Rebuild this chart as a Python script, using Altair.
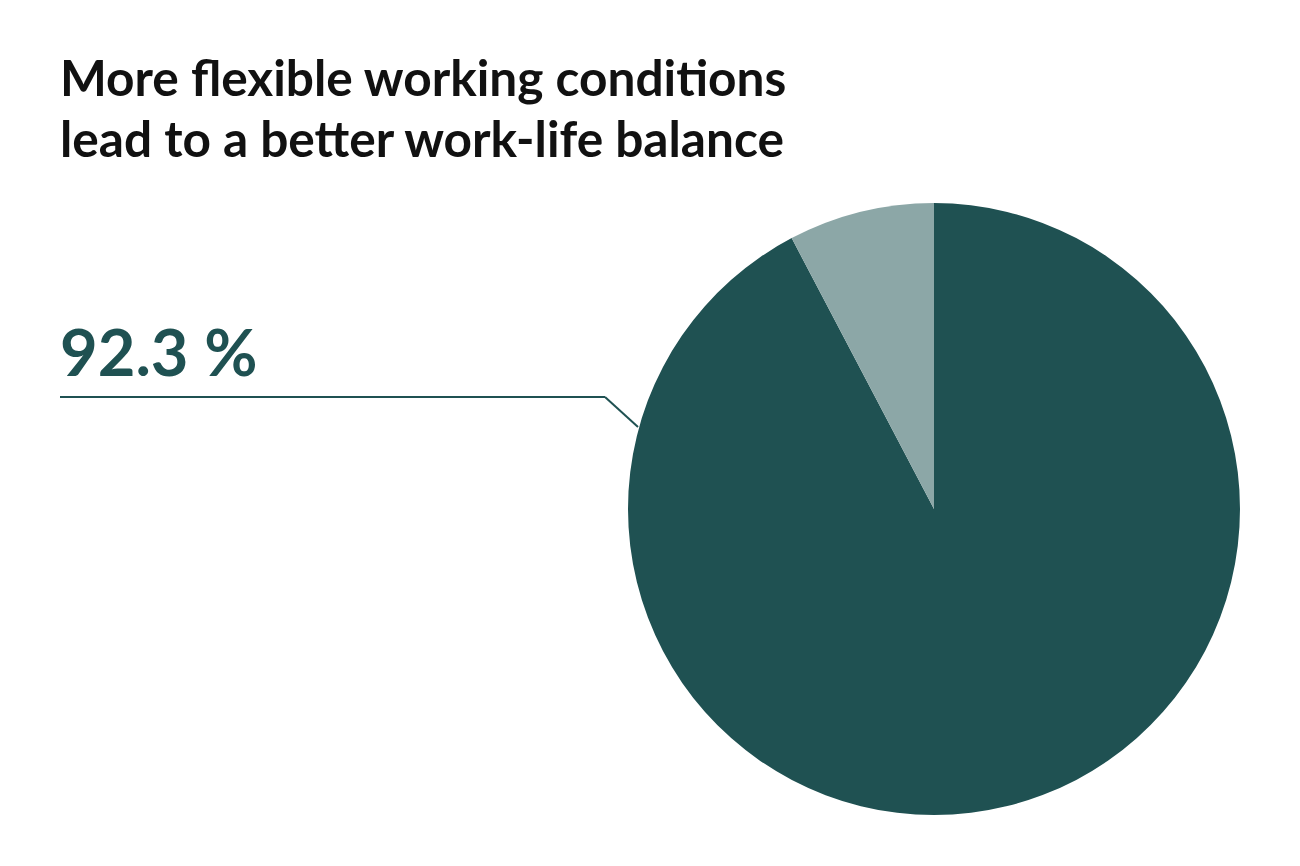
import altair as alt
import pandas as pd

categories = ["Agree", "Disagree"]
values = [92.3, 7.7]
colors = ["#1f5152", "#8ca7a7"]
title_lines = ["More flexible working conditions", "lead to a better work-life balance"]
label_text = "92.3 %"

FONT = "Lato"
W, H = 1284, 850
CX, CY, R = 926, 501, 306

pie_df = pd.DataFrame({"category": categories, "value": values, "order": [0, 1]})

pie = alt.Chart(pie_df).mark_arc(outerRadius=R, stroke=None).encode(
    theta=alt.Theta("value:Q", stack=True),
    order=alt.Order("order:Q"),
    color=alt.Color("category:N", scale=alt.Scale(domain=categories, range=colors), legend=None),
    x=alt.value(CX),
    y=alt.value(CY),
)

title_layers = []
for line, ypos in zip(title_lines, [88, 149]):
    title_layers.append(
        alt.Chart(pd.DataFrame({"line": [line]})).mark_text(
            align="left", baseline="alphabetic", font=FONT, fontSize=49.6, fontWeight="bold", color="#111111"
        ).encode(text="line:N", x=alt.value(52), y=alt.value(ypos))
    )

label = alt.Chart(pd.DataFrame({"t": [label_text]})).mark_text(
    align="left", baseline="alphabetic", font=FONT, fontSize=65, fontWeight="bold", color=colors[0]
).encode(text="t:N", x=alt.value(52), y=alt.value(368))

seg_df = pd.DataFrame({"x": [52, 597], "x2": [597, 630], "y": [389, 389], "y2": [389, 419]})
leader = alt.Chart(seg_df).mark_rule(color=colors[0], strokeWidth=2).encode(
    x=alt.X("x:Q", scale=alt.Scale(domain=[0, W], range=[0, W]), axis=None),
    x2="x2:Q",
    y=alt.Y("y:Q", scale=alt.Scale(domain=[0, H], range=[0, H]), axis=None),
    y2="y2:Q",
)

chart = alt.layer(pie, leader, *title_layers, label).properties(
    width=W, height=H, padding=0, autosize=alt.AutoSizeParams(type="none")
).configure_view(stroke=None)

chart.save("out.html", embed_options={"renderer": "svg", "actions": False})
